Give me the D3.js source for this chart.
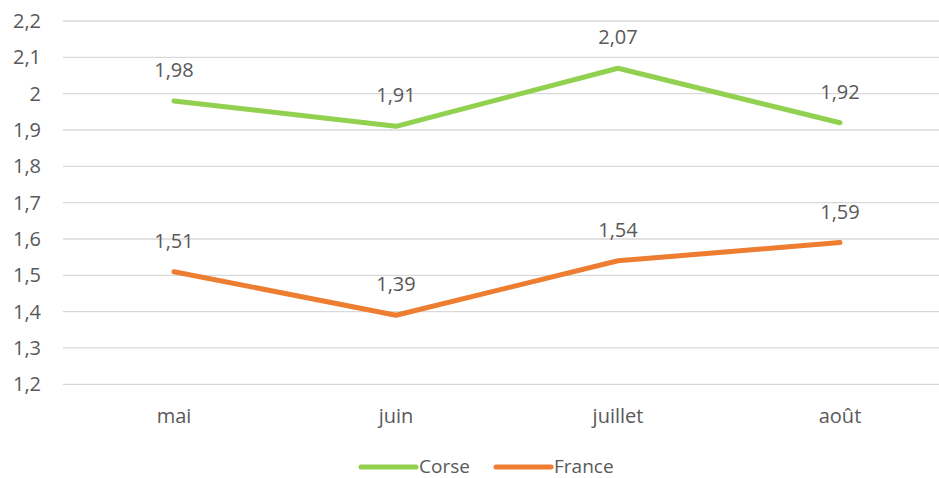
<!DOCTYPE html>
<html lang="fr">
  <head>
    <meta charset="UTF-8" />
    <script src="https://d3js.org/d3.v7.min.js"></script>
    <title>Corse / France</title>
    <style>
      body { margin: 0; background: #fff; }
      text { font-family: "Open Sans", "Noto Sans", sans-serif; fill: #595959; }
    </style>
  </head>
  <body>
  </body>
</html>
<script>
const width = 939;
const height = 478;

// data
const months = ["mai", "juin", "juillet", "août"];
const corse = [1.98, 1.91, 2.07, 1.92];
const france = [1.51, 1.39, 1.54, 1.59];
const yTicks = [1.2, 1.3, 1.4, 1.5, 1.6, 1.7, 1.8, 1.9, 2, 2.1, 2.2];

const series = [
  { name: "Corse", values: corse, color: "#92D050" },
  { name: "France", values: france, color: "#ED7D31" }
];

const fmt = (v) => String(v).replace(".", ",");

let svg = d3.select("body")
  .append("svg")
  .attr("width", width)
  .attr("height", height);

let xScale = d3.scalePoint()
  .domain(months)
  .range([63, 951])
  .padding(0.5);

let yScale = d3.scaleLinear()
  .domain([1.2, 2.2])
  .range([384.3, 21]);

// gridlines
svg.append("g")
  .selectAll("line")
  .data(yTicks)
  .enter()
  .append("line")
  .attr("x1", 63)
  .attr("x2", 951)
  .attr("y1", (d) => yScale(d))
  .attr("y2", (d) => yScale(d))
  .attr("stroke", "#d9d9d9")
  .attr("stroke-width", 1.3);

// y labels
svg.append("g")
  .selectAll("text")
  .data(yTicks)
  .enter()
  .append("text")
  .attr("x", 41)
  .attr("y", (d) => yScale(d) + 7)
  .attr("text-anchor", "end")
  .style("font-size", "20px")
  .text((d) => fmt(d));

// x labels
svg.append("g")
  .selectAll("text")
  .data(months)
  .enter()
  .append("text")
  .attr("x", (d) => xScale(d))
  .attr("y", 423)
  .attr("text-anchor", "middle")
  .style("font-size", "20px")
  .text((d) => d);

let line = d3.line()
  .x((d, i) => xScale(months[i]))
  .y((d) => yScale(d));

series.forEach((s) => {
  svg.append("path")
    .datum(s.values)
    .attr("fill", "none")
    .attr("stroke", s.color)
    .attr("stroke-width", 5)
    .attr("stroke-linecap", "round")
    .attr("stroke-linejoin", "round")
    .attr("d", line);

  svg.append("g")
    .selectAll("text")
    .data(s.values)
    .enter()
    .append("text")
    .attr("x", (d, i) => xScale(months[i]))
    .attr("y", (d) => yScale(d) - 24)
    .attr("text-anchor", "middle")
    .style("font-size", "20px")
    .text((d) => fmt(d));
});

// legend
let legendX = [361, 496];
let legend = svg.append("g");
series.forEach((s, i) => {
  legend.append("line")
    .attr("x1", legendX[i])
    .attr("x2", legendX[i] + 55)
    .attr("y1", 467)
    .attr("y2", 467)
    .attr("stroke", s.color)
    .attr("stroke-width", 5)
    .attr("stroke-linecap", "round");
  legend.append("text")
    .attr("x", legendX[i] + 58)
    .attr("y", 472.5)
    .style("font-size", "19px")
    .text(s.name);
});
</script>
